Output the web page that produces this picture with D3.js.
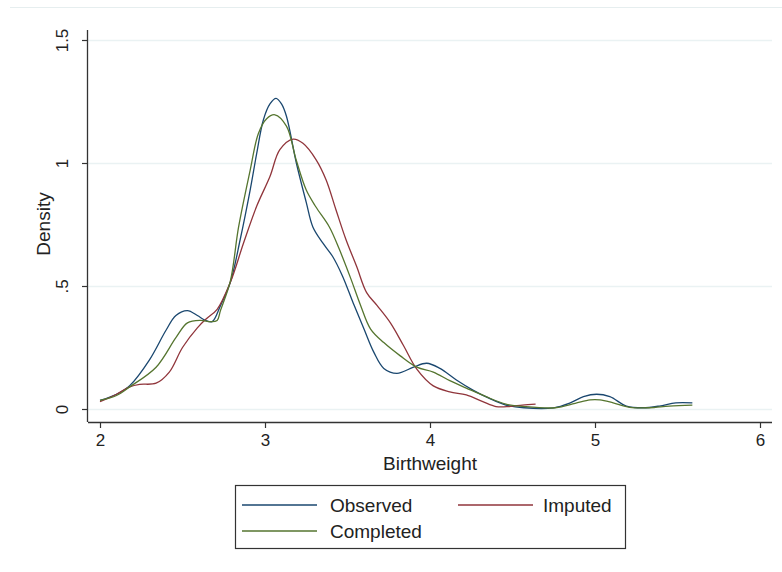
<!DOCTYPE html>
<html>
<head>
<meta charset="utf-8">
<script src="https://cdn.jsdelivr.net/npm/d3@7"></script>
<style>
  body { margin: 0; background: #fff; }
  svg { display: block; font-family: "Liberation Sans", Arial, sans-serif; }
</style>
</head>
<body>
<script>
// --- data ---
const observedX = [2.0, 2.1, 2.18, 2.3, 2.4, 2.46, 2.53, 2.59, 2.64, 2.68, 2.73, 2.79, 2.85, 2.91, 2.95, 2.99, 3.03, 3.067, 3.1, 3.13, 3.19, 3.25, 3.29, 3.35, 3.41, 3.47, 3.535, 3.6, 3.66, 3.72, 3.8, 3.9, 3.98, 4.06, 4.16, 4.26, 4.36, 4.46, 4.57, 4.75, 4.85, 4.93, 5.01, 5.09, 5.19, 5.29, 5.39, 5.49, 5.59];
const observedY = [0.035, 0.06, 0.095, 0.2, 0.32, 0.38, 0.40, 0.38, 0.36, 0.355, 0.42, 0.515, 0.69, 0.89, 1.04, 1.175, 1.24, 1.263, 1.24, 1.19, 1.0, 0.84, 0.74, 0.675, 0.62, 0.54, 0.43, 0.325, 0.23, 0.165, 0.145, 0.17, 0.186, 0.165, 0.118, 0.077, 0.043, 0.016, 0.005, 0.005, 0.025, 0.05, 0.06, 0.05, 0.012, 0.005, 0.012, 0.025, 0.025];

const imputedX = [2.0, 2.1, 2.18, 2.24, 2.34, 2.42, 2.5, 2.59, 2.65, 2.71, 2.79, 2.87, 2.95, 3.03, 3.09, 3.17, 3.23, 3.31, 3.37, 3.43, 3.49, 3.555, 3.616, 3.68, 3.76, 3.84, 3.92, 4.02, 4.12, 4.22, 4.32, 4.4, 4.48, 4.56, 4.64];
const imputedY = [0.03, 0.06, 0.09, 0.10, 0.105, 0.15, 0.25, 0.33, 0.37, 0.405, 0.515, 0.675, 0.825, 0.945, 1.054, 1.097, 1.08, 1.013, 0.932, 0.81, 0.69, 0.58, 0.473, 0.42, 0.35, 0.257, 0.162, 0.094, 0.07, 0.057, 0.03, 0.01, 0.01, 0.016, 0.02];

const completedX = [2.0, 2.1, 2.18, 2.34, 2.46, 2.53, 2.61, 2.67, 2.71, 2.73, 2.79, 2.84, 2.91, 2.96, 3.01, 3.06, 3.13, 3.19, 3.25, 3.31, 3.39, 3.45, 3.52, 3.58, 3.64, 3.72, 3.82, 3.92, 4.02, 4.12, 4.22, 4.34, 4.46, 4.57, 4.76, 4.88, 4.97, 5.03, 5.11, 5.21, 5.33, 5.45, 5.59];
const completedY = [0.035, 0.055, 0.09, 0.17, 0.29, 0.35, 0.36, 0.355, 0.36, 0.40, 0.52, 0.74, 0.97, 1.12, 1.18, 1.196, 1.15, 1.01, 0.89, 0.82, 0.74, 0.65, 0.53, 0.42, 0.325, 0.27, 0.216, 0.17, 0.15, 0.115, 0.085, 0.05, 0.02, 0.01, 0.005, 0.023, 0.037, 0.037, 0.025, 0.007, 0.005, 0.012, 0.016];

const xTicks = [2, 3, 4, 5, 6];
const yTicks = [0, 0.5, 1, 1.5];
const yTickLabels = ["0", ".5", "1", "1.5"];

const series = [
  { name: "Observed", color: "#1a476f", xs: observedX, ys: observedY },
  { name: "Imputed", color: "#90353b", xs: imputedX, ys: imputedY },
  { name: "Completed", color: "#55752f", xs: completedX, ys: completedY }
];

const W = 782, H = 572;
const svg = d3.select("body").append("svg").attr("width", W).attr("height", H);

// faint outer border line at top
svg.append("line")
  .attr("x1", 10).attr("x2", W).attr("y1", 7.5).attr("y2", 7.5)
  .attr("stroke", "#e6eeef").attr("stroke-width", 1);

const x = d3.scaleLinear().domain([2, 6]).range([100, 760]);
const y = d3.scaleLinear().domain([0, 1.5]).range([409, 40]);
const axisLeft = 88, axisBottom = 422, plotRight = 772;

// gridlines
svg.append("g").selectAll("line")
  .data(yTicks)
  .join("line")
  .attr("x1", axisLeft).attr("x2", plotRight)
  .attr("y1", d => Math.round(y(d)) + 0.5).attr("y2", d => Math.round(y(d)) + 0.5)
  .attr("stroke", "#eaf2f3").attr("stroke-width", 1.3);

// y axis
const yAxis = d3.axisLeft(y).tickValues(yTicks).tickSize(6).tickPadding(10)
  .tickFormat((d, i) => yTickLabels[i]);
const gy = svg.append("g").attr("transform", `translate(${axisLeft},0)`).call(yAxis);
gy.select(".domain").attr("d", `M-0.5,30V${axisBottom}`).attr("stroke", "#333").attr("stroke-width", 1.3);
gy.selectAll(".tick line").attr("stroke", "#333").attr("stroke-width", 1.2);
gy.selectAll(".tick text")
  .attr("font-size", 17).attr("fill", "#222")
  .attr("x", 0).attr("dy", 0)
  .attr("text-anchor", "middle")
  .attr("transform", "translate(-20,0) rotate(-90)");

// x axis
const xAxis = d3.axisBottom(x).tickValues(xTicks).tickSize(6).tickPadding(6).tickFormat(d3.format("d"));
const gx = svg.append("g").attr("transform", `translate(0,${axisBottom})`).call(xAxis);
gx.select(".domain").attr("d", `M${axisLeft},0.5H${plotRight}`).attr("stroke", "#333").attr("stroke-width", 1.3);
gx.selectAll(".tick line").attr("stroke", "#333").attr("stroke-width", 1.2);
gx.selectAll(".tick text").attr("font-size", 17).attr("fill", "#222");

// axis titles
svg.append("text")
  .attr("x", 430).attr("y", 470)
  .attr("text-anchor", "middle").attr("font-size", 19).attr("fill", "#222")
  .text("Birthweight");
svg.append("text")
  .attr("transform", "translate(50,224) rotate(-90)")
  .attr("text-anchor", "middle").attr("font-size", 19).attr("fill", "#222")
  .text("Density");

// curves
const line = d3.line()
  .x(d => x(d[0]))
  .y(d => y(d[1]))
  .curve(d3.curveCatmullRom.alpha(0.5));

svg.append("g").selectAll("path")
  .data(series)
  .join("path")
  .attr("d", s => line(s.xs.map((v, i) => [v, s.ys[i]])))
  .attr("fill", "none")
  .attr("stroke", s => s.color)
  .attr("stroke-width", 1.3);

// legend
const legend = svg.append("g");
legend.append("rect")
  .attr("x", 235.5).attr("y", 485.5).attr("width", 390).attr("height", 63)
  .attr("fill", "#fff").attr("stroke", "#333").attr("stroke-width", 1.2);

const legendPos = [
  { x: 242, y: 505 },
  { x: 458, y: 505 },
  { x: 242, y: 531 }
];
const items = legend.selectAll("g.item")
  .data(series)
  .join("g")
  .attr("class", "item")
  .attr("transform", (d, i) => `translate(${legendPos[i].x},${legendPos[i].y})`);
items.append("line")
  .attr("x1", 0).attr("x2", 75).attr("y1", 0).attr("y2", 0)
  .attr("stroke", d => d.color).attr("stroke-width", 1.3);
items.append("text")
  .attr("x", (d, i) => i === 1 ? 85 : 88).attr("y", 6.5)
  .attr("font-size", 19).attr("fill", "#222")
  .text(d => d.name);
</script>
</body>
</html>
